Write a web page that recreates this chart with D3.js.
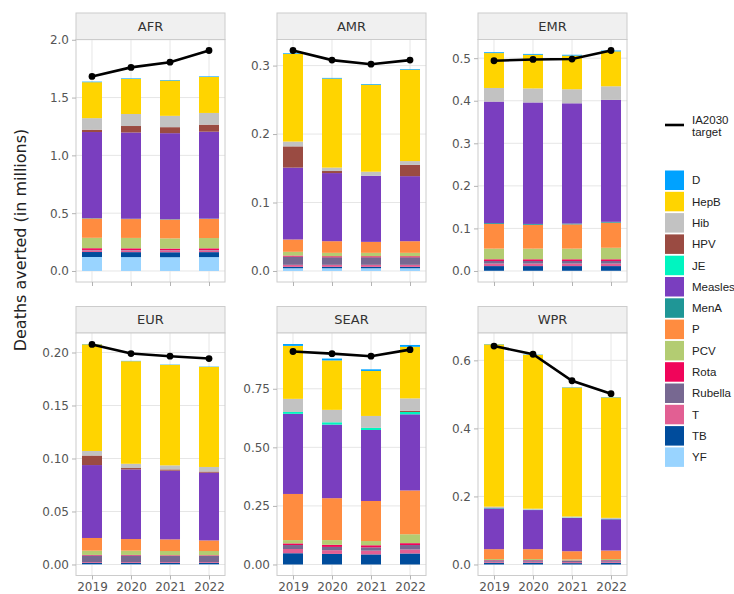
<!DOCTYPE html>
<html><head><meta charset="utf-8">
<script src="https://cdn.jsdelivr.net/npm/d3@7"></script>
<style>body{margin:0;background:#fff} svg{display:block}</style>
</head><body><svg id="c" width="734" height="594"></svg>
<script>
const years = ["2019","2020","2021","2022"];
const regions = ["AFR","AMR","EMR","EUR","SEAR","WPR"];
// legend order (top of stack = first)
const antigens = ["D","HepB","Hib","HPV","JE","Measles","MenA","P","PCV","Rota","Rubella","T","TB","YF"];
const antigenColors = ["#00A2FF","#FFD400","#C2C2C2","#9A4B42","#00F5C0","#7A3EBF","#1F9696","#FF8C40","#B3CC72","#F0055A","#776891","#E25F93","#004C9C","#99D4FF"];

// Deaths averted (millions): 4 years per region, regions in order AFR, AMR, EMR, EUR, SEAR, WPR
const YF      = [0.121,0.120,0.119,0.120, 0.004,0.004,0.004,0.004, 0.0005,0.0005,0.0005,0.0005, 0.0002,0.0002,0.0002,0.0002, 0,0,0,0, 0,0,0,0];
const TB      = [0.043,0.043,0.043,0.043, 0.002,0.002,0.002,0.002, 0.011,0.011,0.011,0.011, 0.0012,0.0012,0.0012,0.0012, 0.048,0.045,0.043,0.047, 0.005,0.005,0.004,0.005];
const T       = [0.015,0.015,0.015,0.015, 0.003,0.003,0.003,0.003, 0.006,0.006,0.006,0.006, 0.0008,0.0008,0.0008,0.0008, 0.018,0.016,0.016,0.017, 0.003,0.003,0.003,0.003];
const Rubella = [0.003,0.003,0.003,0.003, 0.012,0.011,0.011,0.011, 0.006,0.006,0.006,0.006, 0.0063,0.0063,0.006,0.006, 0.017,0.014,0.014,0.019, 0.004,0.004,0.004,0.004];
const Rota    = [0.015,0.015,0.014,0.015, 0.0015,0.0015,0.0015,0.0015, 0.004,0.004,0.004,0.004, 0.0005,0.0005,0.0005,0.0005, 0.007,0.009,0.009,0.008, 0.001,0.001,0.001,0.001];
const PCV     = [0.090,0.090,0.088,0.089, 0.0055,0.005,0.005,0.005, 0.025,0.025,0.025,0.027, 0.004,0.004,0.004,0.004, 0.014,0.020,0.018,0.038, 0.003,0.003,0.003,0.003];
const P       = [0.167,0.163,0.163,0.165, 0.018,0.017,0.016,0.017, 0.058,0.056,0.057,0.059, 0.012,0.011,0.011,0.010, 0.197,0.179,0.171,0.187, 0.029,0.029,0.024,0.025];
const MenA    = [0.003,0.003,0.003,0.003, 0,0,0,0, 0.002,0.002,0.002,0.002, 0,0,0,0, 0,0,0,0, 0,0,0,0];
const Measles = [0.745,0.746,0.744,0.752, 0.105,0.0995,0.0965,0.095, 0.2855,0.2855,0.2825,0.2865, 0.0688,0.0657,0.0648,0.0639, 0.342,0.314,0.303,0.325, 0.120,0.115,0.098,0.092];
const JE      = [0,0,0,0, 0,0,0,0, 0,0,0,0, 0,0,0,0, 0.008,0.010,0.009,0.010, 0.001,0.001,0.001,0.001];
const HPV     = [0.020,0.056,0.052,0.061, 0.031,0.003,0,0.0165, 0,0,0,0, 0.009,0.0013,0.0012,0.0011, 0,0,0,0.005, 0,0,0,0];
const Hib     = [0.100,0.104,0.098,0.101, 0.007,0.005,0.006,0.0055, 0.032,0.033,0.033,0.032, 0.0043,0.004,0.0038,0.0043, 0.056,0.053,0.051,0.053, 0.004,0.003,0.003,0.003];
const HepB    = [0.311,0.303,0.305,0.311, 0.128,0.130,0.127,0.1335, 0.082,0.079,0.079,0.082, 0.1006,0.0968,0.0948,0.0944, 0.226,0.211,0.192,0.220, 0.477,0.452,0.379,0.354];
const D       = [0.005,0.005,0.005,0.005, 0.001,0.001,0.001,0.001, 0.002,0.002,0.002,0.002, 0.0003,0.0003,0.0003,0.0003, 0.008,0.008,0.007,0.008, 0.001,0.001,0.001,0.001];
const target  = [1.683,1.761,1.806,1.907, 0.322,0.308,0.302,0.308, 0.494,0.497,0.498,0.518, 0.2076,0.199,0.1965,0.1943, 0.909,0.900,0.889,0.917, 0.642,0.618,0.540,0.502];

const yTickValues = [[0,0.5,1,1.5,2],[0,0.1,0.2,0.3],[0,0.1,0.2,0.3,0.4,0.5],[0,0.05,0.1,0.15,0.2],[0,0.25,0.5,0.75],[0,0.2,0.4,0.6]];
const yTickDecimals = [1,1,1,2,2,1];

const series = {D,HepB,Hib,HPV,JE,Measles,MenA,P,PCV,Rota,Rubella,T,TB,YF};
const stackOrder = antigens.slice().reverse(); // bottom first
const colorOf = d3.scaleOrdinal().domain(antigens).range(antigenColors);

const svg = d3.select("#c");
const colX = [76, 277, 478], panelW = 149;
const stripTop = [13, 306.5], stripH = 26.5, panelH = 242.5;
const axisFont = "DejaVu Sans, Verdana, sans-serif";

regions.forEach((reg, ri) => {
  const col = ri % 3, row = Math.floor(ri / 3);
  const x0 = colX[col], sy = stripTop[row], py = sy + stripH;
  const rows = years.map((yr, yi) => {
    const o = {year: yr};
    antigens.forEach(a => o[a] = series[a][ri*4+yi]);
    o.target = target[ri*4+yi];
    return o;
  });
  const stacked = d3.stack().keys(stackOrder)(rows);
  const maxV = d3.max(rows, (r, i) => Math.max(d3.max(stacked, s => s[i][1]), r.target));
  const pad = maxV * 0.05;
  const y = d3.scaleLinear().domain([-pad, maxV + pad]).range([py + panelH, py]);
  const x = d3.scalePoint().domain(years).range([x0, x0 + panelW]).padding(0.41);
  const bw = 20;

  const g = svg.append("g");
  // strip
  g.append("rect").attr("x", x0).attr("y", sy).attr("width", panelW).attr("height", stripH)
    .attr("fill", "#F0F0F0").attr("stroke", "#CCCCCC").attr("stroke-width", 1);
  g.append("text").attr("x", x0 + panelW/2).attr("y", sy + stripH/2).attr("dy", "0.36em")
    .attr("text-anchor", "middle").attr("font-family", axisFont).attr("font-size", 13)
    .attr("fill", "#333").text(reg);
  // panel bg
  g.append("rect").attr("x", x0).attr("y", py).attr("width", panelW).attr("height", panelH).attr("fill", "#fff");
  // gridlines
  const ticks = yTickValues[ri];
  g.selectAll(".gy").data(ticks).join("line")
    .attr("x1", x0).attr("x2", x0 + panelW).attr("y1", d => y(d)).attr("y2", d => y(d))
    .attr("stroke", "#E6E6E6").attr("stroke-width", 1);
  g.selectAll(".gx").data(years).join("line")
    .attr("x1", d => x(d)).attr("x2", d => x(d)).attr("y1", py).attr("y2", py + panelH)
    .attr("stroke", "#E6E6E6").attr("stroke-width", 1);
  // bars
  stacked.forEach(s => {
    g.selectAll(null).data(s).join("rect")
      .attr("x", d => x(d.data.year) - bw/2).attr("width", bw)
      .attr("y", d => y(d[1])).attr("height", d => Math.max(0, y(d[0]) - y(d[1])))
      .attr("fill", colorOf(s.key));
  });
  // target line
  const line = d3.line().x(d => x(d.year)).y(d => y(d.target));
  g.append("path").datum(rows).attr("d", line).attr("fill", "none").attr("stroke", "#000").attr("stroke-width", 2.6);
  g.selectAll(".pt").data(rows).join("circle").attr("cx", d => x(d.year)).attr("cy", d => y(d.target))
    .attr("r", 3.4).attr("fill", "#000");
  // border
  g.append("rect").attr("x", x0).attr("y", py).attr("width", panelW).attr("height", panelH)
    .attr("fill", "none").attr("stroke", "#CCCCCC").attr("stroke-width", 1);
  // y axis
  const ya = g.append("g").attr("transform", `translate(${x0},0)`)
    .call(d3.axisLeft(y).tickValues(ticks).tickFormat(d3.format("." + yTickDecimals[ri] + "f")).tickSize(4).tickPadding(3));
  ya.select(".domain").remove();
  ya.selectAll("line").attr("stroke", "#B3B3B3");
  ya.selectAll("text").attr("font-family", axisFont).attr("font-size", 12).attr("fill", "#555");
  // x axis
  const xa = g.append("g").attr("transform", `translate(0,${py + panelH})`)
    .call(d3.axisBottom(x).tickSize(4).tickPadding(3).tickFormat(row === 1 ? (d => d) : () => ""));
  xa.select(".domain").remove();
  xa.selectAll("line").attr("stroke", "#B3B3B3");
  xa.selectAll("text").attr("font-family", axisFont).attr("font-size", 12).attr("fill", "#555");
});

// y title
svg.append("text").attr("transform", "translate(20,240) rotate(-90)")
  .attr("text-anchor", "middle").attr("dy", "0.36em")
  .attr("font-family", axisFont).attr("font-size", 16).attr("fill", "#222")
  .text("Deaths averted (in millions)");

// legend
const legFont = "Liberation Sans, Arial, sans-serif";
const lg = svg.append("g");
lg.append("line").attr("x1", 665).attr("x2", 684).attr("y1", 125).attr("y2", 125).attr("stroke", "#000").attr("stroke-width", 2.6);
lg.append("text").attr("x", 692).attr("y", 124).attr("font-family", legFont).attr("font-size", 11.5).attr("fill", "#222").text("IA2030");
lg.append("text").attr("x", 692).attr("y", 136).attr("font-family", legFont).attr("font-size", 11.5).attr("fill", "#222").text("target");
const ly = d3.scaleBand().domain(antigens).range([170.5, 170.5 + 21.3*14]);
lg.selectAll(".k").data(antigens).join("rect")
  .attr("x", 665).attr("y", d => ly(d)).attr("width", 19).attr("height", 19.5).attr("fill", d => colorOf(d));
lg.selectAll(".kt").data(antigens).join("text")
  .attr("x", 692).attr("y", d => ly(d) + 9.75).attr("dy", "0.36em")
  .attr("font-family", legFont).attr("font-size", 11.5).attr("fill", "#222").text(d => d);
</script></body></html>
